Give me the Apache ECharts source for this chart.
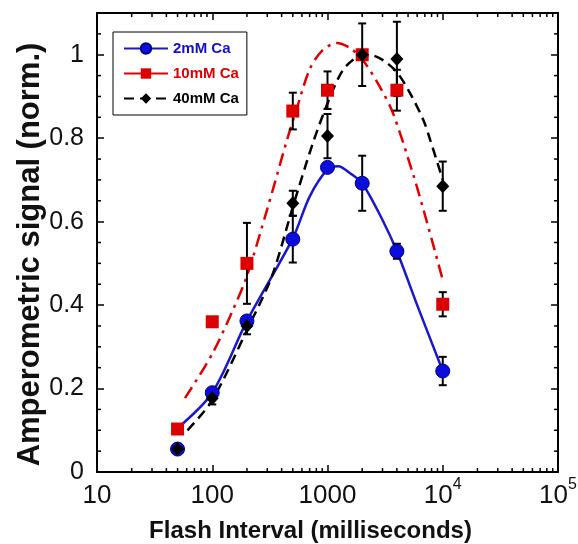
<!DOCTYPE html>
<html>
<head>
<meta charset="utf-8">
<script src="https://cdn.jsdelivr.net/npm/echarts@6/dist/echarts.min.js"></script>
<style>html,body{margin:0;padding:0;background:#fff;}#c{width:578px;height:544px;}</style>
</head>
<body>
<div id="c"></div>
<script>
// ---- data ----
const xPoints = [50, 100, 200, 500, 1000, 2000, 4000, 10000];
const ca2 = [0.055, 0.19, 0.362, 0.558, 0.73, 0.692, 0.529, 0.242];
const ca2Err = [0, 0, 0, 0.056, 0, 0.066, 0.018, 0.034];
const ca10 = [0.103, 0.36, 0.5, 0.865, 0.915, 1.0, 0.915, 0.402];
const ca10Err = [0, 0, 0.097, 0.044, 0.045, 0, 0.049, 0.029];
const ca40 = [0.055, 0.177, 0.35, 0.644, 0.805, 1.0, 0.99, 0.685];
const ca40Err = [0, 0.015, 0.02, 0.03, 0.053, 0.075, 0.089, 0.059];

// fitted curves
const blueFitX = [50, 100, 200, 500, 700, 1000, 1240, 1570, 2000, 3000, 4000, 6000, 10000];
const blueFitY = [0.105, 0.19, 0.362, 0.56, 0.66, 0.725, 0.733, 0.716, 0.692, 0.604, 0.529, 0.40, 0.242];
const redFitX = [58, 100, 151, 200, 300, 450, 540, 700, 900, 1200, 1570, 2030, 2860, 3700, 5500, 6700, 8200, 10000];
const redFitY = [0.177, 0.283, 0.388, 0.47, 0.63, 0.80, 0.87, 0.965, 1.01, 1.028, 1.016, 0.987, 0.922, 0.86, 0.716, 0.635, 0.548, 0.46];
const blackFitX = [61, 100, 200, 330, 500, 750, 1050, 1360, 1800, 2350, 3030, 4000, 5200, 6800, 7800, 10000];
const blackFitY = [0.10, 0.172, 0.34, 0.47, 0.635, 0.79, 0.898, 0.963, 0.994, 0.999, 0.987, 0.958, 0.908, 0.843, 0.795, 0.70];

const seriesNames = ['2mM Ca', '10mM Ca', '40mM Ca'];
const xMinorTicks = [20,30,40,50,60,70,80,90, 200,300,400,500,600,700,800,900,
  2000,3000,4000,5000,6000,7000,8000,9000, 20000,30000,40000,50000,60000,70000,80000,90000];
const yMinorTicks = [0.05,0.1,0.15, 0.25,0.3,0.35, 0.45,0.5,0.55, 0.65,0.7,0.75, 0.85,0.9,0.95, 1.05];
const X_MIN = 10, X_MAX = 100000, Y_MIN = 0, Y_MAX = 1.1;

// ---- build ----
const FONT = '"Liberation Sans", Arial, Helvetica, sans-serif';
const zip = (a, b) => a.map((v, i) => [v, b[i]]);
function errData(vals, errs) {
  const out = [];
  vals.forEach((v, i) => { if (errs[i] > 0) out.push([xPoints[i], v - errs[i], v + errs[i]]); });
  return out;
}
const allErr = errData(ca2, ca2Err).concat(errData(ca10, ca10Err), errData(ca40, ca40Err));

const chart = echarts.init(document.getElementById('c'), null, {renderer: 'canvas'});

function xLabel(v) {
  const e = Math.round(Math.log10(v));
  if (e >= 4) return '{b|10}{s|' + e + '}';
  return '{b|' + Math.round(v) + '}';
}

const axisLine = {show: true, onZero: false, lineStyle: {color: '#000', width: 2}};

const option = {
  animation: false,
  backgroundColor: '#fff',
  grid: {left: 97, right: 20, top: 13, bottom: 72, containLabel: false, outerBoundsMode: 'none'},
  legend: {
    orient: 'vertical', left: 113, top: 32,
    padding: [9, 8, 9, 10], itemGap: 10, itemWidth: 44, itemHeight: 13,
    borderColor: '#000', borderWidth: 1, backgroundColor: '#fff',
    textStyle: {fontFamily: FONT, fontWeight: 'bold', fontSize: 15},
    data: [
      {name: seriesNames[0], textStyle: {color: '#1010cc'}},
      {name: seriesNames[1], textStyle: {color: '#dd0000'}, lineStyle: {type: 'solid'}},
      {name: seriesNames[2], textStyle: {color: '#000'}}
    ]
  },
  xAxis: [
    {type: 'log', logBase: 10, min: X_MIN, max: X_MAX, position: 'bottom',
      axisLine: axisLine, splitLine: {show: false},
      axisTick: {show: true, inside: true, length: 7, lineStyle: {color: '#000', width: 1.5}},
      axisLabel: {margin: 5, formatter: xLabel, color: '#111',
        rich: {b: {fontFamily: FONT, fontSize: 26, color: '#111', padding: [6, 0, 0, 0]},
               s: {fontFamily: FONT, fontSize: 16, color: '#111', verticalAlign: 'top', lineHeight: 16}}},
      name: 'Flash Interval (milliseconds)', nameLocation: 'middle', nameGap: 47,
      nameTextStyle: {fontFamily: FONT, fontWeight: 'bold', fontSize: 24, color: '#111', padding: [0, 34, 0, 0]}},
    {type: 'log', logBase: 10, min: X_MIN, max: X_MAX, position: 'top',
      axisLine: axisLine, splitLine: {show: false},
      axisTick: {show: true, inside: true, length: 7, lineStyle: {color: '#000', width: 1.5}},
      axisLabel: {show: false}}
  ],
  yAxis: [
    {type: 'value', min: Y_MIN, max: Y_MAX, interval: 0.2, position: 'left',
      axisLine: axisLine, splitLine: {show: false},
      axisTick: {show: true, inside: true, length: 7, lineStyle: {color: '#000', width: 1.5}},
      axisLabel: {margin: 13, fontFamily: FONT, fontSize: 25, color: '#111',
        formatter: v => (v > 1.05 ? '' : String(Math.round(v * 10) / 10))},
      name: 'Amperometric signal (norm.)', nameLocation: 'middle', nameGap: 51, nameMoveOverlap: false,
      nameTextStyle: {fontFamily: FONT, fontWeight: 'bold', fontSize: 31, color: '#111', padding: [0, 24, 0, 0]}},
    {type: 'value', min: Y_MIN, max: Y_MAX, interval: 0.2, position: 'right',
      axisLine: axisLine, splitLine: {show: false},
      axisTick: {show: true, inside: true, length: 7, lineStyle: {color: '#000', width: 1.5}},
      axisLabel: {show: false}}
  ],
  series: [
    // minor ticks (x)
    {type: 'custom', name: 'xminor', silent: true, data: xMinorTicks.map(v => [v, 0]),
      renderItem: (p, api) => {
        const v = api.value(0);
        const b = api.coord([v, Y_MIN]), t = api.coord([v, Y_MAX]);
        const st = {stroke: '#000', lineWidth: 1.5};
        return {type: 'group', children: [
          {type: 'line', shape: {x1: b[0], y1: b[1], x2: b[0], y2: b[1] - 4}, style: st},
          {type: 'line', shape: {x1: t[0], y1: t[1], x2: t[0], y2: t[1] + 4}, style: st}]};
      }},
    // minor ticks (y)
    {type: 'custom', name: 'yminor', silent: true, data: yMinorTicks.map(v => [X_MIN, v]),
      renderItem: (p, api) => {
        const v = api.value(1);
        const l = api.coord([X_MIN, v]), r = api.coord([X_MAX, v]);
        const st = {stroke: '#000', lineWidth: 1.5};
        return {type: 'group', children: [
          {type: 'line', shape: {x1: l[0], y1: l[1], x2: l[0] + 4, y2: l[1]}, style: st},
          {type: 'line', shape: {x1: r[0], y1: r[1], x2: r[0] - 4, y2: r[1]}, style: st}]};
      }},
    // fitted curves (carry legend icons)
    {type: 'line', name: seriesNames[0], data: zip(blueFitX, blueFitY), smooth: 0.3,
      symbol: 'circle', symbolSize: 13, showSymbol: false,
      lineStyle: {color: '#1818cc', width: 2.5, type: 'solid'},
      itemStyle: {color: '#0c0cdd', borderColor: '#000088', borderWidth: 1}, z: 3},
    {type: 'line', name: seriesNames[1], data: zip(redFitX, redFitY), smooth: 0.3,
      symbol: 'rect', symbolSize: 13, showSymbol: false,
      lineStyle: {color: '#e00000', width: 2.5, type: [13, 6, 3, 6]},
      itemStyle: {color: '#dd0000'}, z: 3},
    {type: 'line', name: seriesNames[2], data: zip(blackFitX, blackFitY), smooth: 0.3,
      symbol: 'diamond', symbolSize: 14, showSymbol: false,
      lineStyle: {color: '#000', width: 2.5, type: [10, 6]},
      itemStyle: {color: '#000'}, z: 3},
    // error bars
    {type: 'custom', name: 'err', silent: true, data: allErr, z: 4,
      renderItem: (p, api) => {
        const x = api.value(0);
        const a = api.coord([x, api.value(1)]), b = api.coord([x, api.value(2)]);
        const st = {stroke: '#000', lineWidth: 2};
        return {type: 'group', children: [
          {type: 'line', shape: {x1: a[0], y1: a[1], x2: b[0], y2: b[1]}, style: st},
          {type: 'line', shape: {x1: a[0] - 4, y1: a[1], x2: a[0] + 4, y2: a[1]}, style: st},
          {type: 'line', shape: {x1: b[0] - 4, y1: b[1], x2: b[0] + 4, y2: b[1]}, style: st}]};
      }},
    // data markers
    {type: 'scatter', name: seriesNames[0], data: zip(xPoints, ca2), symbol: 'circle', symbolSize: 14,
      itemStyle: {color: '#0c0cdd', borderColor: '#000088', borderWidth: 1, opacity: 1}, z: 5},
    {type: 'scatter', name: seriesNames[1], data: zip(xPoints, ca10), symbol: 'rect', symbolSize: 13,
      itemStyle: {color: '#dd0000', opacity: 1}, z: 5},
    {type: 'scatter', name: seriesNames[2], data: zip(xPoints, ca40), symbol: 'diamond', symbolSize: [13, 14],
      itemStyle: {color: '#000', opacity: 1}, z: 6}
  ]
};
chart.setOption(option);
</script>
</body>
</html>
